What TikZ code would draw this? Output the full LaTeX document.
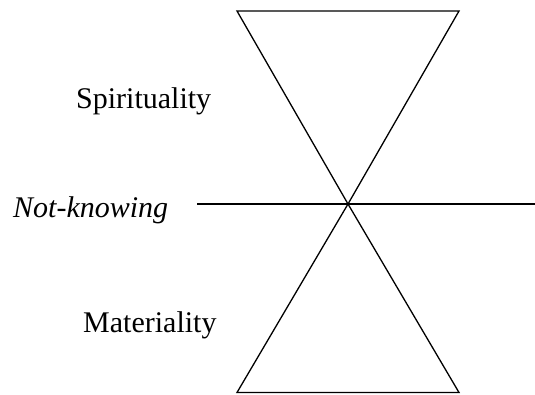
\documentclass[tikz,border=0pt]{standalone}
\usepackage{fontspec}
\setmainfont{Liberation Serif}
\begin{document}
\begin{tikzpicture}[x=1pt,y=-1pt,
  edge/.style={draw=black,line width=1.3pt,line join=miter},
  lbl/.style={anchor=base west,inner sep=0pt,font=\fontsize{30}{36}\selectfont}]
\useasboundingbox (0,0) rectangle (535,394);
\coordinate (TL) at (237,11);
\coordinate (TR) at (459,11);
\coordinate (C) at (348,204);
\coordinate (BL) at (237,392.5);
\coordinate (BR) at (459,392.5);
\coordinate (H) at (197,204);
\coordinate (E) at (535,204);
\draw[edge] (TL) -- (TR) -- (C) -- cycle;
\draw[edge] (BL) -- (BR) -- (C) -- cycle;
\draw[edge] (H) -- (E);
\node[lbl] (spir) at (76,108) {Spirituality};
\node[lbl,font=\fontsize{30}{36}\selectfont\itshape] (nk) at (13,217) {Not-knowing};
\node[lbl] (mat) at (83,332) {Materiality};
\end{tikzpicture}
\end{document}
